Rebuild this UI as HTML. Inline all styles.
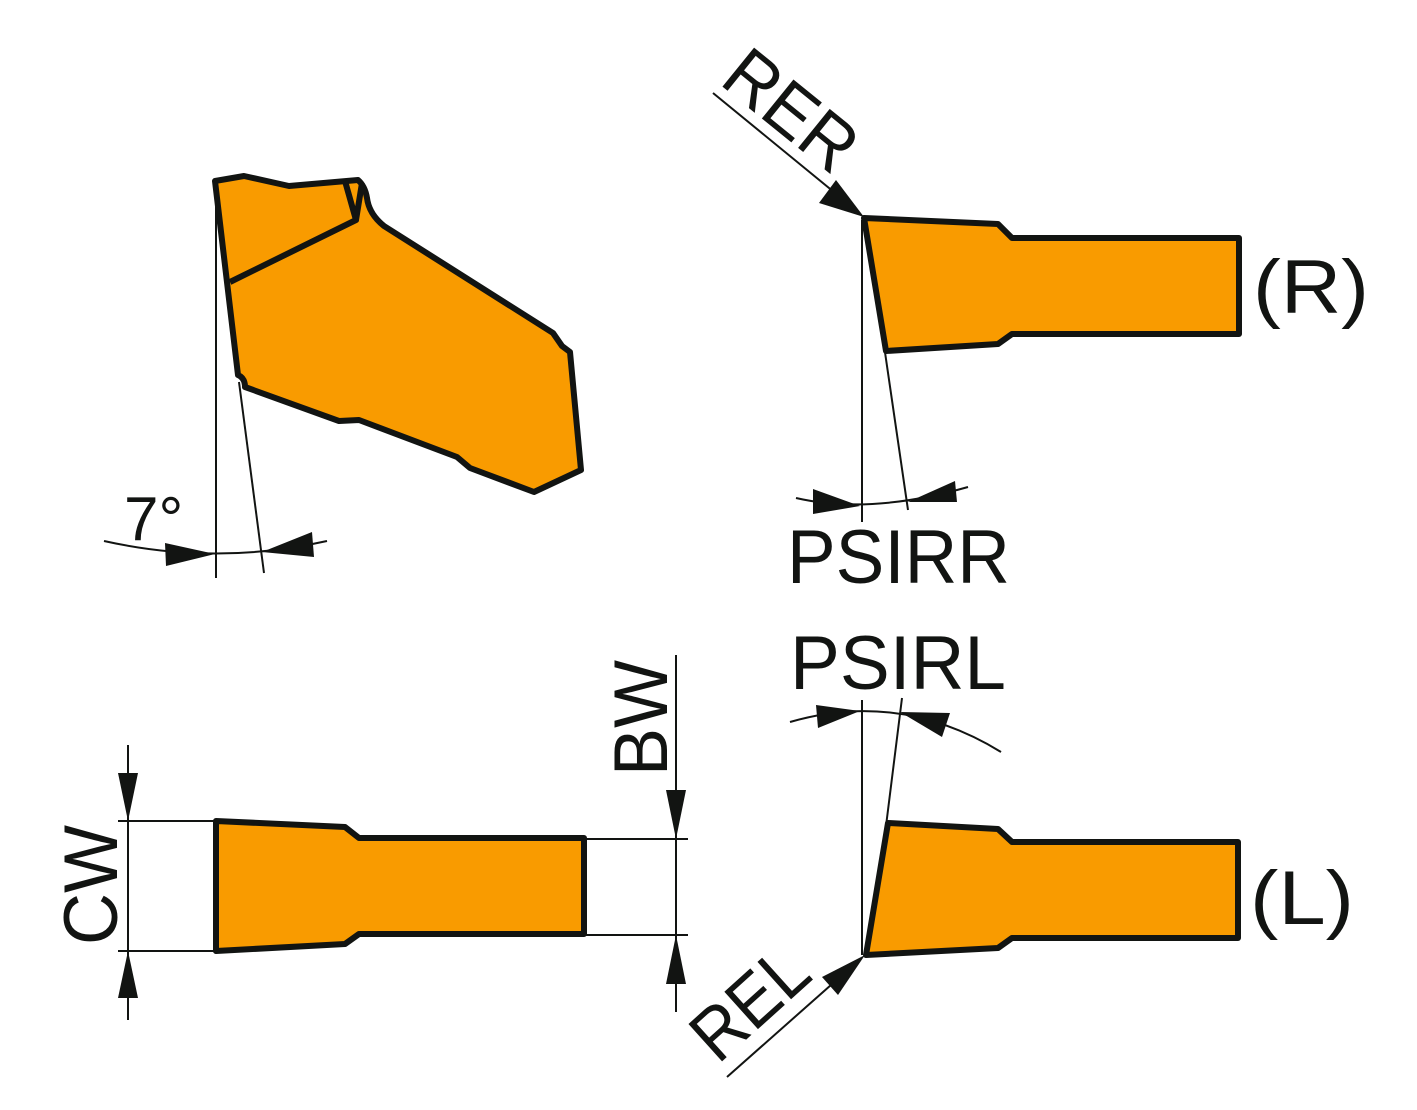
<!DOCTYPE html>
<html><head><style>
html,body{margin:0;padding:0;background:#fff;}
svg{display:block;}
text{font-family:"Liberation Sans",Arial,sans-serif;fill:#121412;}
</style></head><body>
<svg width="1417" height="1110" viewBox="0 0 1417 1110" xmlns="http://www.w3.org/2000/svg">
<g fill="#F99B00" stroke="#121412" stroke-width="6" stroke-linejoin="round">
<path d="M215,181 L244,176 L289,186 L358,180 Q365,186 367,198 Q369,214 384,226 L553,333 L562,346 L570,352 L581,470 L534,492 L470,468 L457,457 L359,420 L339,421 L245,387 Q245,378 238,375 Z"/>
<path d="M864,218 L998,224 L1012,238 L1239,238 L1239,334 L1012,334 L998,344 L886,351 Z"/>
<path d="M216,821 L345,827 L359,838 L584,838 L584,934 L359,934 L345,944 L216,951 Z"/>
<path d="M888,823 L998,829 L1012,842 L1238,842 L1238,938 L1012,938 L998,948 L866,955 Z"/>
</g>
<g fill="none" stroke="#121412" stroke-width="6" stroke-linejoin="round">
<path d="M230,282 L356,220 L345,181 M356,220 L362,183"/>
</g>
<g fill="none" stroke="#121412" stroke-width="2">
<!-- 7 deg -->
<line x1="216" y1="181" x2="216" y2="578"/>
<line x1="239" y1="382" x2="264" y2="573"/>
<path d="M104,541 Q216,566 327,541"/>
<!-- PSIRR -->
<line x1="862" y1="220" x2="862" y2="522"/>
<line x1="880" y1="318" x2="908" y2="510"/>
<path d="M796,498 Q870,515 968,487"/>
<!-- RER -->
<line x1="713" y1="93" x2="840" y2="197"/>
<!-- PSIRL -->
<line x1="862" y1="700" x2="862" y2="955"/>
<line x1="902" y1="698" x2="886" y2="826"/>
<path d="M790,722 Q900,690 1001,752"/>
<!-- REL -->
<line x1="727" y1="1077" x2="840" y2="977"/>
<!-- CW -->
<line x1="128" y1="745" x2="128" y2="1020"/>
<line x1="118" y1="821" x2="216" y2="821"/>
<line x1="118" y1="951" x2="216" y2="951"/>
<!-- BW -->
<line x1="676" y1="655" x2="676" y2="1012"/>
<line x1="586" y1="839" x2="688" y2="839"/>
<line x1="586" y1="935" x2="688" y2="935"/>
</g>
<g fill="#121412">
<polygon points="165,543 166,566 215,554"/>
<polygon points="312,532 314,557 262,552"/>
<polygon points="813,489 813,514 860,506"/>
<polygon points="955,481 957,502 908,502"/>
<polygon points="819,203 836,180 864,217"/>
<polygon points="816,705 818,728 860,711"/>
<polygon points="950,713 942,737 900,712"/>
<polygon points="822,977 838,995 865,955"/>
<polygon points="118,773 138,773 128,821"/>
<polygon points="118,998 138,998 128,951"/>
<polygon points="666,790 686,790 676,839"/>
<polygon points="666,984 686,984 676,935"/>
</g>
<text x="124" y="540" font-size="62">7°</text>
<text x="787" y="583" font-size="76" textLength="223" lengthAdjust="spacingAndGlyphs">PSIRR</text>
<text x="790" y="689" font-size="76" textLength="216" lengthAdjust="spacingAndGlyphs">PSIRL</text>
<text x="1253" y="313" font-size="76" textLength="116" lengthAdjust="spacingAndGlyphs">(R)</text>
<text x="1250" y="924" font-size="76" textLength="104" lengthAdjust="spacingAndGlyphs">(L)</text>
<text transform="translate(718,83) rotate(39)" font-size="73" textLength="148" lengthAdjust="spacingAndGlyphs">RER</text>
<text transform="translate(718,1065) rotate(-42)" font-size="73" textLength="130" lengthAdjust="spacingAndGlyphs">REL</text>
<text transform="translate(117,945) rotate(-90)" font-size="76" textLength="120" lengthAdjust="spacingAndGlyphs">CW</text>
<text transform="translate(667,776) rotate(-90)" font-size="76" textLength="116" lengthAdjust="spacingAndGlyphs">BW</text>
</svg>
</body></html>
